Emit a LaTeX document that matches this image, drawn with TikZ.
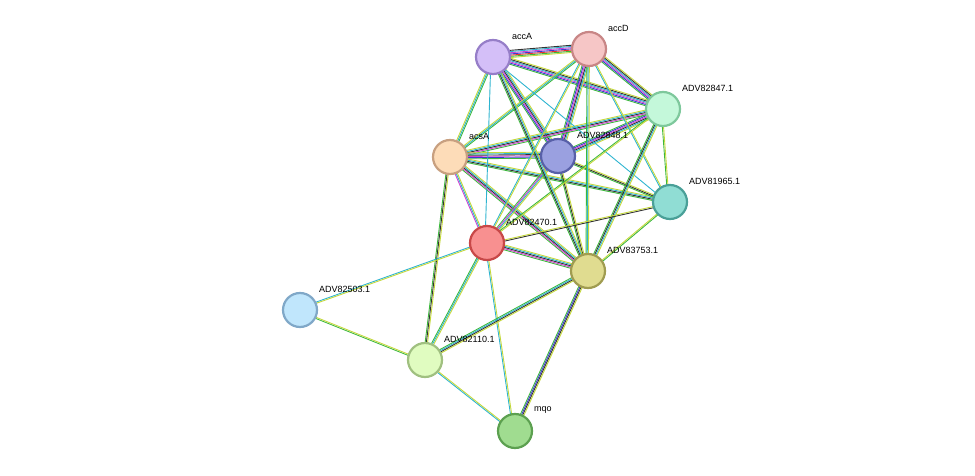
\documentclass[tikz,border=0pt]{standalone}
\usepackage{fontspec}
\setmainfont{Liberation Sans}
\usetikzlibrary{calc}
\definecolor{nb}{HTML}{3DB83D}
\definecolor{fu}{HTML}{E8302E}
\definecolor{co}{HTML}{3A3AD0}
\definecolor{ce}{HTML}{333333}
\definecolor{ex}{HTML}{D040D0}
\definecolor{db}{HTML}{2EB4D0}
\definecolor{tm}{HTML}{C4D83C}
\tikzset{
  prot/.style={circle,minimum size=34pt,line width=2.2pt,inner sep=0pt},
  lbl/.style={anchor=west,font=\fontsize{9}{10}\selectfont,inner sep=0pt},
  strand/.style={line width=0.9pt}
}
\newcommand{\link}[3]{%
  \foreach \c [count=\i] in {#3}{%
    \pgfmathsetmacro{\off}{(\i-1)*1.2-2}%
    \draw[strand,\c] ($(#1)!\off pt!90:(#2)$) -- ($(#2)!\off pt!-90:(#1)$);
  }}
\begin{document}
\begin{tikzpicture}[x=1pt,y=-1pt]
\useasboundingbox (0,0) rectangle (975,476);

\coordinate (accA) at (493,57);
\coordinate (accD) at (589,49);
\coordinate (p847) at (663,109);
\coordinate (acsA) at (450,157);
\coordinate (p848) at (558,156);
\coordinate (p965) at (670,202);
\coordinate (p470) at (487,243);
\coordinate (p753) at (588,271);
\coordinate (p503) at (300,310);
\coordinate (p110) at (425,360);
\coordinate (mqo)  at (515,431);

\link{accA}{accD}{tm,nb,fu,co,ex,db,ce}
\link{accA}{p847}{nb,co,ex,db,ce,tm}
\link{accD}{p847}{nb,co,ex,db,ce,tm}
\link{accA}{p848}{nb,co,ex,ce,db,tm}
\link{accD}{p848}{nb,co,ex,ce,db,tm}
\link{p847}{p848}{nb,co,ex,ce,db,tm}
\link{acsA}{accA}{nb,db,tm}
\link{acsA}{accD}{nb,db,tm}
\link{acsA}{p847}{nb,ex,ce,db,tm}
\link{acsA}{p848}{nb,co,ex,ce,db,tm}
\link{acsA}{p965}{nb,ce,db,tm}
\link{p848}{p965}{nb,ce,tm}
\link{p847}{p965}{nb,tm}
\link{accD}{p965}{db,tm}
\link{accA}{p965}{db}
\link{acsA}{p470}{ex,db,tm}
\link{acsA}{p753}{nb,ex,ce,db,tm}
\link{acsA}{p110}{nb,ce,tm}
\link{p848}{p470}{nb,ex,db,tm}
\link{p848}{p753}{nb,ce,tm}
\link{p847}{p753}{nb,ce,db,tm}
\link{p847}{p470}{nb,tm}
\link{accA}{p470}{db}
\link{accA}{p753}{nb,ce,db,tm}
\link{accD}{p753}{nb,db,tm}
\link{accD}{p470}{db,tm}
\link{p470}{p753}{nb,ex,ce,db,tm}
\link{p470}{p965}{ce,tm}
\link{p753}{p965}{nb,tm}
\link{p470}{p503}{db,tm}
\link{p470}{p110}{nb,db,tm}
\link{p470}{mqo}{db,tm}
\link{p753}{p110}{nb,db,ce,tm}
\link{p753}{mqo}{nb,co,ce,tm}
\link{p503}{p110}{nb,tm}
\link{p110}{mqo}{db,tm}

\node[prot,fill={rgb,255:red,212;green,191;blue,248},draw={rgb,255:red,150;green,126;blue,200}] (nAccA) at (accA) {};
\node[prot,fill={rgb,255:red,246;green,198;blue,198},draw={rgb,255:red,200;green,134;blue,134}] (nAccD) at (accD) {};
\node[prot,fill={rgb,255:red,196;green,248;blue,218},draw={rgb,255:red,126;green,200;blue,156}] (n847) at (p847) {};
\node[prot,fill={rgb,255:red,253;green,220;blue,184},draw={rgb,255:red,200;green,160;blue,128}] (nAcsA) at (acsA) {};
\node[prot,fill={rgb,255:red,154;green,160;blue,224},draw={rgb,255:red,88;green,96;blue,168}] (n848) at (p848) {};
\node[prot,fill={rgb,255:red,144;green,221;blue,212},draw={rgb,255:red,74;green,160;blue,152}] (n965) at (p965) {};
\node[prot,fill={rgb,255:red,248;green,144;blue,144},draw={rgb,255:red,200;green,72;blue,72}] (n470) at (p470) {};
\node[prot,fill={rgb,255:red,224;green,220;blue,144},draw={rgb,255:red,160;green,156;blue,80}] (n753) at (p753) {};
\node[prot,fill={rgb,255:red,192;green,230;blue,252},draw={rgb,255:red,128;green,168;blue,200}] (n503) at (p503) {};
\node[prot,fill={rgb,255:red,224;green,252;blue,192},draw={rgb,255:red,160;green,192;blue,128}] (n110) at (p110) {};
\node[prot,fill={rgb,255:red,160;green,220;blue,144},draw={rgb,255:red,92;green,160;blue,80}] (nMqo) at (mqo) {};

\node[lbl] (tAccA) at ([shift={(19,-21)}]accA) {accA};
\node[lbl] (tAccD) at ([shift={(19,-21)}]accD) {accD};
\node[lbl] (t847) at ([shift={(19,-21)}]p847) {ADV82847.1};
\node[lbl] (tAcsA) at ([shift={(19,-21)}]acsA) {acsA};
\node[lbl] (t848) at ([shift={(19,-21)}]p848) {ADV82848.1};
\node[lbl] (t965) at ([shift={(19,-21)}]p965) {ADV81965.1};
\node[lbl] (t470) at ([shift={(19,-21)}]p470) {ADV82470.1};
\node[lbl] (t753) at ([shift={(19,-21)}]p753) {ADV83753.1};
\node[lbl] (t503) at ([shift={(19,-21)}]p503) {ADV82503.1};
\node[lbl] (t110) at ([shift={(19,-21)}]p110) {ADV82110.1};
\node[lbl] (tMqo) at ([shift={(19,-21)}]mqo) {mqo};
\end{tikzpicture}
\end{document}
